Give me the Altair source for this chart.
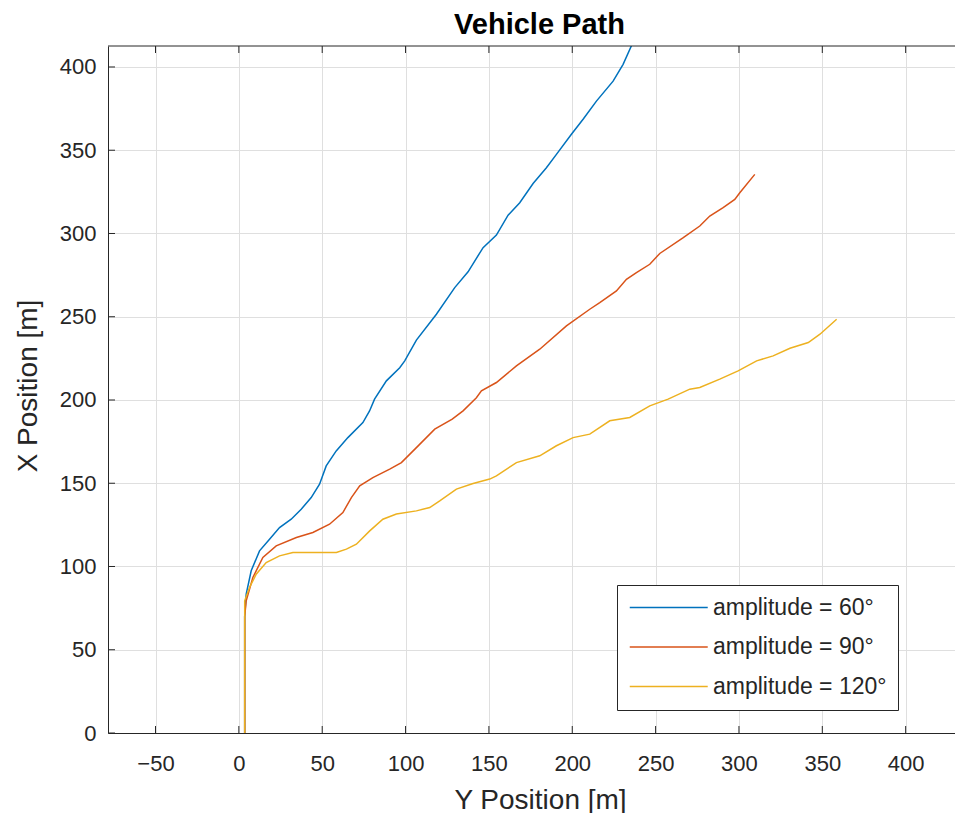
import altair as alt
import pandas as pd

# ---- data ----
labels = ["amplitude = 60°", "amplitude = 90°", "amplitude = 120°"]
colors = ["#0072BD", "#D95319", "#EDB120"]

y60 = [3.5, 3.5, 4.4, 7.4, 12.4, 18.4, 24.4, 31.4, 37.4, 43.4, 48.4, 52.4, 58.4, 65.4, 74.4, 78.4, 81.4,
       88.5, 96.5, 99.5, 106.5, 118.5, 129.5, 137.5, 146.5, 154.5, 161.5, 168.5, 176.5, 184.5, 190.5,
       199.5, 206.5, 214.5, 224.5, 230.5, 236.5]
x60 = [0, 70, 83.4, 97.4, 109.4, 116.4, 123.4, 128.4, 134.4, 141.4, 149.4, 160.4, 169.4, 177.4, 186.4,
       193.4, 200.5, 211.5, 219.4, 223.5, 236, 251.5, 267.5, 277, 291.5, 299, 311, 318.5, 330, 339.5,
       347.5, 359.6, 368.6, 379.5, 391.5, 401.6, 415]

y90 = [3.5, 3.5, 4.4, 8.4, 14.4, 22.4, 34.5, 44.4, 54.4, 62.4, 67.5, 72.5, 80.4, 90.5, 97.5, 106.5,
       117.5, 128, 134.5, 142.5, 145.5, 154.5, 166.5, 180.5, 196.5, 210.5, 216.5, 226.5, 232.5, 238.5,
       246.5, 252.5, 266.6, 276.5, 282.5, 290.5, 297.5, 300.5, 309.5]
x90 = [0, 70, 79.4, 93.4, 105.4, 112.4, 117.4, 120.4, 125.4, 132.4, 141.4, 148.4, 153.4, 158.5, 162.4,
       171.4, 182.5, 188.5, 193.5, 201.4, 205.5, 210.5, 220.5, 230.5, 244.5, 254.5, 258.5, 265.5, 272.5,
       276.5, 281.5, 288, 297.5, 304.5, 310.5, 315.5, 320.5, 324.5, 335.5]

y120 = [3.5, 3.5, 6.4, 10.4, 16.4, 24.4, 32.4, 58.5, 64.5, 70.5, 78.5, 86.4, 94.5, 106.5, 114.5, 120.5,
        130.5, 140.5, 150.5, 154.5, 166.5, 180.5, 190.5, 200.5, 210.5, 222.5, 234.5, 246.5, 257.5,
        270.5, 276.5, 288.5, 299.5, 310.6, 320.5, 330.6, 341.6, 348.6, 358.6]
x120 = [0, 79.4, 87.4, 95.4, 102.4, 106.4, 108.4, 108.4, 110.4, 113.4, 121.4, 128.4, 131.5, 133.4,
        135.4, 139.4, 146.5, 149.8, 152.5, 154.4, 162.4, 166.5, 172.5, 177.4, 179.5, 187.5, 189.5,
        196.5, 200.5, 206.5, 207.5, 212.5, 217.5, 223.5, 226.5, 231.1, 234.5, 239.5, 248.5]

x_ticks = [-50, 0, 50, 100, 150, 200, 250, 300, 350, 400]
y_ticks = [0, 50, 100, 150, 200, 250, 300, 350, 400]

rows = []
for lab, ys, xs in [(labels[0], y60, x60), (labels[1], y90, x90), (labels[2], y120, x120)]:
    for i, (a, b) in enumerate(zip(ys, xs)):
        rows.append({"label": lab, "i": i, "ypos": a, "xpos": b})
df = pd.DataFrame(rows)

W, H = 847, 687
FONT = "Liberation Sans"
INK = "#262626"

xscale = alt.Scale(domain=[-78.5, 429.6], nice=False, zero=False)
yscale = alt.Scale(domain=[0, 412.6], nice=False, zero=False)

xaxis = alt.Axis(title="Y Position [m]", values=x_ticks, grid=True, gridColor="#dfdfdf", gridWidth=1,
                 domainColor=INK, domainWidth=1, ticks=False, labelPadding=20, labelFont=FONT,
                 labelFontSize=22, labelColor=INK, titleFont=FONT, titleFontSize=28,
                 titleFontWeight="normal", titleColor=INK, titleX=432, titleY=67,
                 titleBaseline="middle", format="d")
yaxis = alt.Axis(title="X Position [m]", values=y_ticks, grid=True, gridColor="#dfdfdf", gridWidth=1,
                 domainColor=INK, domainWidth=1, ticks=False, labelPadding=12, labelFont=FONT,
                 labelFontSize=22, labelColor=INK, titleFont=FONT, titleFontSize=28,
                 titleFontWeight="normal", titleColor=INK, titleX=-80, titleY=H / 2 - 4,
                 titleAngle=-90, titleBaseline="middle", format="d")

lines = alt.Chart(df).mark_line(strokeWidth=1.5, clip=True).encode(
    x=alt.X("ypos:Q", scale=xscale, axis=xaxis),
    y=alt.Y("xpos:Q", scale=yscale, axis=yaxis),
    color=alt.Color("label:N", scale=alt.Scale(domain=labels, range=colors),
                    legend=alt.Legend(title=None, orient="none", legendX=509, legendY=539,
                                      symbolType="M-1,0H7", symbolSize=380, symbolStrokeWidth=1.5,
                                      labelFont=FONT, labelFontSize=23, labelColor=INK,
                                      labelOffset=62, strokeColor=INK, fillColor="white",
                                      padding=11, rowPadding=15.5, labelLimit=400)),
    order=alt.Order("i:Q"),
)

xt = pd.DataFrame({"v": x_ticks})
yt = pd.DataFrame({"v": y_ticks})
xt_bottom = alt.Chart(xt).mark_rule(color=INK, strokeWidth=1).encode(
    x=alt.X("v:Q", scale=xscale, title="Y Position [m]"), y=alt.value(H), y2=alt.value(H - 7))
xt_top = alt.Chart(xt).mark_rule(color=INK, strokeWidth=1).encode(
    x=alt.X("v:Q", scale=xscale, title="Y Position [m]"), y=alt.value(0), y2=alt.value(7))
yt_left = alt.Chart(yt).mark_rule(color=INK, strokeWidth=1).encode(
    y=alt.Y("v:Q", scale=yscale, title="X Position [m]"), x=alt.value(0), x2=alt.value(7))
top_border = alt.Chart(pd.DataFrame({"a": [0]})).mark_rule(color=INK, strokeWidth=1).encode(
    x=alt.value(0), x2=alt.value(W), y=alt.value(0))

chart = alt.layer(lines, xt_bottom, xt_top, yt_left, top_border).properties(
    width=W, height=H,
    title=alt.Title("Vehicle Path", font=FONT, fontSize=29, fontWeight="bold", color="#000000",
                    anchor="middle", dx=8, offset=6),
    autosize=alt.AutoSizeParams(type="none"),
    padding={"left": 100, "top": 38, "right": 0, "bottom": 80},
    background="white",
).configure_view(stroke=None)

chart.save("out.html", embed_options={"renderer": "svg", "actions": False})
